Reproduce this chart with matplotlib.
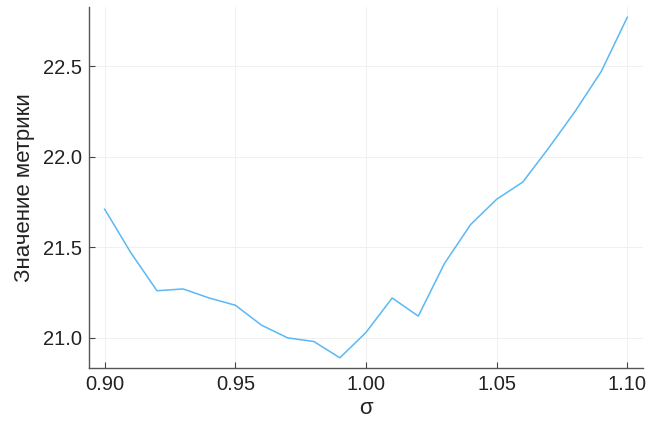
import numpy as np
import matplotlib
matplotlib.use('Agg')
import matplotlib.pyplot as plt

plt.rcParams['font.family'] = ['Liberation Sans', 'DejaVu Sans']

# metric value vs sigma
sigma = [0.90, 0.91, 0.92, 0.93, 0.94, 0.95, 0.96, 0.97, 0.98, 0.99, 1.00,
         1.01, 1.02, 1.03, 1.04, 1.05, 1.06, 1.07, 1.08, 1.09, 1.10]
metric = [21.71, 21.47, 21.26, 21.27, 21.22, 21.18, 21.07, 21.00, 20.98, 20.89, 21.03,
          21.22, 21.12, 21.41, 21.625, 21.765, 21.86, 22.05, 22.25, 22.47, 22.77]
xticks = [0.90, 0.95, 1.00, 1.05, 1.10]
yticks = [21.0, 21.5, 22.0, 22.5]

fig = plt.figure(figsize=(6.54, 4.21), dpi=100)
ax = fig.add_axes([0.1361, 0.1259, 0.9832 - 0.1361, 0.9834 - 0.1259])

ax.plot(sigma, metric, color='#5ab8f5', linewidth=1.1)

xr = max(sigma) - min(sigma)
yr = max(metric) - min(metric)
ax.set_xlim(min(sigma) - 0.03 * xr, max(sigma) + 0.03 * xr)
ax.set_ylim(min(metric) - 0.03 * yr, max(metric) + 0.03 * yr)

ax.set_xticks(xticks)
ax.set_xticklabels(['%.2f' % v for v in xticks])
ax.set_yticks(yticks)
ax.set_yticklabels(['%.1f' % v for v in yticks])
ax.tick_params(direction='in', length=4, width=0.8, color='#444444',
               labelsize=14.5, labelcolor='#222222', pad=5)

ax.grid(True, color='#f0f0f0', linewidth=0.7)
ax.set_axisbelow(True)
for s in ['top', 'right']:
    ax.spines[s].set_visible(False)
for s in ['left', 'bottom']:
    ax.spines[s].set_color('#555555')
    ax.spines[s].set_linewidth(1.0)

ax.set_xlabel('σ', fontsize=16, color='#222222', labelpad=3)
ax.set_ylabel('Значение метрики', fontsize=16, color='#222222', labelpad=6)

fig.savefig('out.png', dpi=100)
